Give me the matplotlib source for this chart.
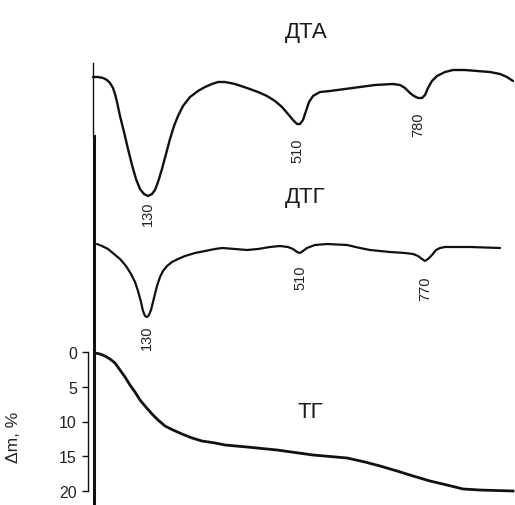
import matplotlib
matplotlib.use("Agg")
import matplotlib.pyplot as plt

plt.rcParams['font.family'] = ['Liberation Sans', 'DejaVu Sans']

# ДТА (в условных единицах развертки, ось вниз)
dta_x = [93, 98, 103, 107, 110, 113, 115, 117, 120, 124, 128, 132, 136, 140, 144, 148,
         152, 155, 158, 162, 166, 170, 174, 178, 183, 190, 198, 205, 212, 218, 225, 235,
         247, 258, 267, 275, 282, 288, 293, 297, 300, 303, 306, 309, 313, 320, 330, 345,
         360, 375, 393, 400, 405, 410, 414, 418, 422, 425, 428, 432, 437, 445, 453, 465,
         477, 490, 500, 507, 513]
dta_y = [78, 78, 79, 81, 84, 89, 95, 103, 117, 133, 150, 166, 180, 190, 195, 197,
         195, 191, 183, 170, 155, 140, 127, 117, 107, 98, 92, 88, 85, 83, 83, 85,
         89, 93, 97, 102, 108, 115, 121, 125, 125, 121, 112, 103, 97, 93, 92, 90,
         88, 86, 85, 86, 89, 94, 97, 99, 99, 96, 89, 82, 77, 73, 71, 71,
         72, 73, 75, 78, 82]
dta_peaks = ["130", "510", "780"]

# ДТГ
dtg_x = [97, 102, 108, 114, 120, 126, 131, 135, 138, 141, 143, 145, 147, 149, 151, 153,
         155, 157, 160, 163, 167, 172, 178, 185, 195, 205, 215, 222, 235, 247, 258, 270,
         280, 288, 293, 297, 300, 303, 307, 315, 327, 347, 360, 370, 390, 405, 413, 418,
         422, 425, 428, 432, 436, 440, 445, 470, 500]
dtg_y = [245, 247, 250, 255, 260, 267, 275, 283, 292, 303, 312, 317, 318, 316, 311, 303,
         295, 287, 278, 272, 267, 263, 260, 257, 254, 252, 250, 249, 250, 251, 250, 248,
         247, 248, 250, 253, 254, 252, 249, 246, 245, 246, 249, 251, 253, 254, 255, 257,
         260, 262, 260, 256, 251, 249, 248, 248, 249]
dtg_peaks = ["130", "510", "770"]

# ТГ, потеря массы, %
tg_x = [95, 100, 105, 110, 115, 120, 125, 130, 135, 140, 145, 152, 158, 165, 173, 182,
        192, 202, 215, 225, 247, 277, 313, 347, 365, 380, 397, 413, 430, 447, 455, 463,
        480, 513]
tg_dm = [0.14, 0.29, 0.58, 1.01, 1.58, 2.59, 3.60, 4.75, 5.76, 6.91, 7.77, 8.92, 9.78,
         10.65, 11.22, 11.80, 12.37, 12.81, 13.09, 13.38, 13.67, 14.10, 14.82, 15.25,
         15.83, 16.40, 17.12, 17.84, 18.56, 19.14, 19.42, 19.71, 19.86, 20.0]
tg_ticks = [0, 5, 10, 15, 20]

W, H = 515, 506
fig = plt.figure(figsize=(W / 100, H / 100), dpi=100)
ax = fig.add_axes([0, 0, 1, 1])
ax.set_xlim(0, W)
ax.set_ylim(H, 0)
ax.axis('off')

ink = '#111111'
ax.plot(dta_x, dta_y, color=ink, lw=1.7, solid_joinstyle='round', solid_capstyle='round')
ax.plot(dtg_x, dtg_y, color=ink, lw=1.6, solid_joinstyle='round', solid_capstyle='round')

# вертикальная линия начала записи
ax.axvline(93, ymin=1 - 137 / H, ymax=1 - 64 / H, color=ink, lw=1.0)
ax.axvline(94, ymin=0, ymax=1 - 137 / H, color=ink, lw=2.2)

# подписи пиков
def peak_labels(xs, ys, labels, ranges, offsets):
    for lab, (lo, hi), off in zip(labels, ranges, offsets):
        idx = [i for i in range(len(xs)) if lo <= xs[i] <= hi]
        i = max(idx, key=lambda k: ys[k])
        ax.text(xs[i], ys[i] + off, lab, rotation=90, ha='center', va='center',
                fontsize=10.5, color='#222222')

peak_labels(dta_x, dta_y, dta_peaks, [(100, 250), (250, 350), (380, 450)], [17, 26, 26])
peak_labels(dtg_x, dtg_y, dtg_peaks, [(100, 250), (250, 350), (380, 450)], [20, 24, 27])

ax.text(306, 32, "ДТА", ha='center', va='center', fontsize=16, color='#1a1a1a')
ax.text(305, 197, "ДТГ", ha='center', va='center', fontsize=16, color='#1a1a1a')
ax.text(310, 413, "ТГ", ha='center', va='center', fontsize=16, color='#1a1a1a')

# ось ТГ
y0, y1 = 353, 492
x0 = 88
ax_tg = fig.add_axes([x0 / W, (H - y1) / H, (W - x0) / W, (y1 - y0) / H])
ax_tg.patch.set_alpha(0)
ax_tg.set_xlim(x0, W)
ax_tg.set_ylim(20, 0)
ax_tg.plot(tg_x, tg_dm, color=ink, lw=2.0, solid_joinstyle='round', clip_on=False)
for s in ['top', 'right', 'bottom']:
    ax_tg.spines[s].set_visible(False)
ax_tg.spines['left'].set_color(ink)
ax_tg.spines['left'].set_linewidth(1.0)
ax_tg.set_xticks([])
ax_tg.set_yticks(tg_ticks)
ax_tg.tick_params(axis='y', direction='out', length=4, width=1.0, pad=4,
                  labelsize=11.5, colors=ink, labelcolor='#222222')
ax_tg.set_ylabel("Δm, %", fontsize=12.5, color='#222222')
ax_tg.yaxis.set_label_coords(-0.157, 0.39)

fig.savefig("out.png", dpi=100)
